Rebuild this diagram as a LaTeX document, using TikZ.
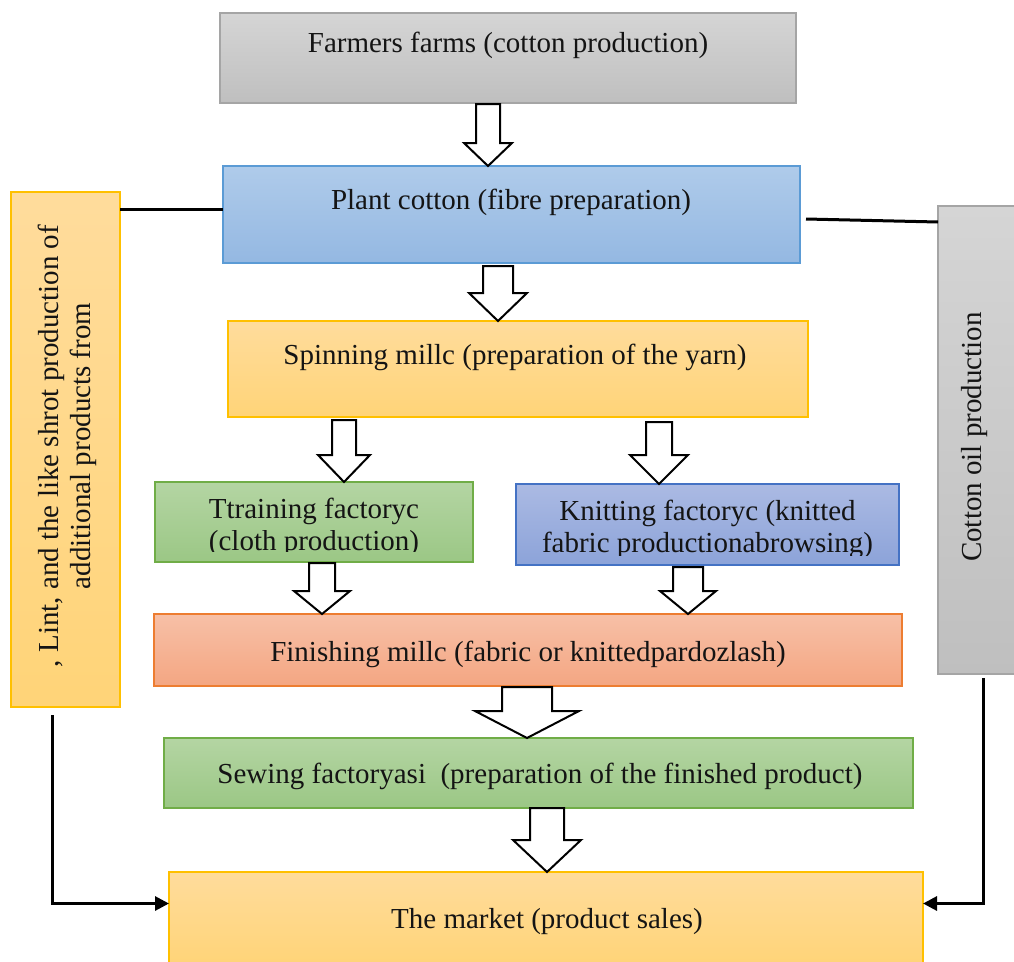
\documentclass[tikz,border=0pt]{standalone}
\usepackage{fontspec}
\setmainfont{Liberation Serif}
\usetikzlibrary{arrows.meta,calc}

% colours of the boxes: fill gradient (top / bottom) and frame
\definecolor{grayT}{HTML}{D5D5D5}\definecolor{grayB}{HTML}{BFBFBF}\definecolor{grayL}{HTML}{A5A5A5}
\definecolor{skyT}{HTML}{AFCBEA}\definecolor{skyB}{HTML}{94B8E2}\definecolor{skyL}{HTML}{5B9BD5}
\definecolor{goldT}{HTML}{FFDC9C}\definecolor{goldB}{HTML}{FFD478}\definecolor{goldL}{HTML}{FFC000}
\definecolor{leafT}{HTML}{B4D5A3}\definecolor{leafB}{HTML}{9BC785}\definecolor{leafL}{HTML}{70AD47}
\definecolor{navyT}{HTML}{ABBAE3}\definecolor{navyB}{HTML}{8CA3D9}\definecolor{navyL}{HTML}{4472C4}
\definecolor{peachT}{HTML}{F7C0A7}\definecolor{peachB}{HTML}{F4A682}\definecolor{peachL}{HTML}{ED7D31}
\definecolor{ink}{HTML}{141414}

% white block arrow from the bottom of one box to the top of the next
% #1 from, #2 to, #3 centre x, #4 shaft half width, #5 head half width,
% #6 head length, #7 gap below the upper box
\newcommand\flowarrow[7]{%
  \draw[blockarrow] let \p1=(#1.south), \p2=(#2.north),
      \n1={\y1-#7pt}, \n2={\y2+#6pt} in
    ({(#3-#4)*1pt},{\n1*1pt}) -- ({(#3+#4)*1pt},{\n1*1pt})
    -- ({(#3+#4)*1pt},{\n2*1pt}) -- ({(#3+#5)*1pt},{\n2*1pt})
    -- ({#3*1pt},\y2) -- ({(#3-#5)*1pt},{\n2*1pt})
    -- ({(#3-#4)*1pt},{\n2*1pt}) -- cycle;}

\begin{document}
\begin{tikzpicture}[x=1pt,y=-1pt,
  box/.style={anchor=north west,inner sep=0pt,outer sep=0pt,line width=1.1pt},
  graybox/.style={box,top color=grayT,bottom color=grayB,draw=grayL},
  skybox/.style={box,top color=skyT,bottom color=skyB,draw=skyL},
  goldbox/.style={box,top color=goldT,bottom color=goldB,draw=goldL},
  leafbox/.style={box,top color=leafT,bottom color=leafB,draw=leafL},
  navybox/.style={box,top color=navyT,bottom color=navyB,draw=navyL},
  peachbox/.style={box,top color=peachT,bottom color=peachB,draw=peachL},
  txt/.style={inner sep=0pt,text=ink,font=\fontsize{29}{32}\selectfont},
  btxt/.style={txt,anchor=base},
  blockarrow/.style={draw=black,fill=white,line width=2pt,line join=miter},
  link/.style={draw=black,line width=3pt},
  linkarrow/.style={link,-{Triangle[length=14pt,width=14pt]}}]

\useasboundingbox (0,0) rectangle (1014,961);
\fill[white] (0,0) rectangle (1014,961);

% boxes
\node[graybox,minimum width=576pt,minimum height=90pt] (farm) at (220,13) {};
\node[skybox,minimum width=577pt,minimum height=97pt] (plant) at (223,166) {};
\node[goldbox,minimum width=580pt,minimum height=96pt] (spin) at (228,321) {};
\node[leafbox,minimum width=318pt,minimum height=80pt] (weave) at (155,482) {};
\node[navybox,minimum width=383pt,minimum height=81pt] (knit) at (516,484) {};
\node[peachbox,minimum width=748pt,minimum height=72pt] (finish) at (154,614) {};
\node[leafbox,minimum width=749pt,minimum height=70pt] (sew) at (164,738) {};
\node[goldbox,minimum width=754pt,minimum height=92pt] (market) at (169,872) {};
\node[goldbox,minimum width=109pt,minimum height=515pt] (lint) at (11,192) {};
\node[graybox,minimum width=80pt,minimum height=468pt] (oil) at (938,206) {};

% box texts
\node[btxt] (farmT) at (508,52) {Farmers farms (cotton production)};
\node[btxt] (plantT) at (511,209) {Plant cotton (fibre preparation)};
\node[btxt] (spinT) at (515,364) {Spinning millc (preparation of the yarn)};
\node[btxt] (weaveTa) at (314,518) {Ttraining factoryc};
\begin{scope}
  \clip (155,530) rectangle (473,551.5);
  \node[btxt] (weaveTb) at (314,550) {(cloth production)};
\end{scope}
\node[btxt] (knitTa) at (707.5,520) {Knitting factoryc (knitted};
\begin{scope}
  \clip (516,530) rectangle (899,555);
  \node[btxt] (knitTb) at (707.5,552) {fabric productionabrowsing)};
\end{scope}
\node[btxt] (finishT) at (528,661) {Finishing millc (fabric or knittedpardozlash)};
\node[btxt] (sewT) at (540,783) {Sewing factoryasi\ \ (preparation of the finished product)};
\node[btxt] (marketT) at (547,928) {The market (product sales)};
\node[txt,rotate=90,align=center] (lintT) at (67,446)
  {, Lint, and the like shrot production of\\additional products from};
\node[btxt,rotate=90] (oilT) at (981,437) {Cotton oil production};

% block arrows along the main chain
\flowarrow{farm}{plant}{488}{12}{24}{23}{1}
\flowarrow{plant}{spin}{498}{15}{29}{28}{3}
\flowarrow{spin}{weave}{344}{12}{26}{27}{3}
\flowarrow{spin}{knit}{659}{13}{29}{29}{5}
\flowarrow{weave}{finish}{322}{13}{28}{23}{1}
\flowarrow{knit}{finish}{688}{15}{28}{23}{2}
\flowarrow{finish}{sew}{527}{25}{52}{27}{1}
\flowarrow{sew}{market}{547}{17}{34}{32}{0}

% side branches
\draw[link] ([yshift=-17pt]lint.north east) -- ([yshift=-43pt]plant.north west);
\draw[link] ([xshift=6pt,yshift=-53pt]plant.north east) -- ([yshift=-16pt]oil.north west);
\draw[linkarrow] ([xshift=41pt,yshift=-8pt]lint.south west) |- ([yshift=14.5pt]market.west);
\draw[linkarrow] ([xshift=45pt,yshift=-4pt]oil.south west) |- ([yshift=14.5pt]market.east);

\end{tikzpicture}
\end{document}
